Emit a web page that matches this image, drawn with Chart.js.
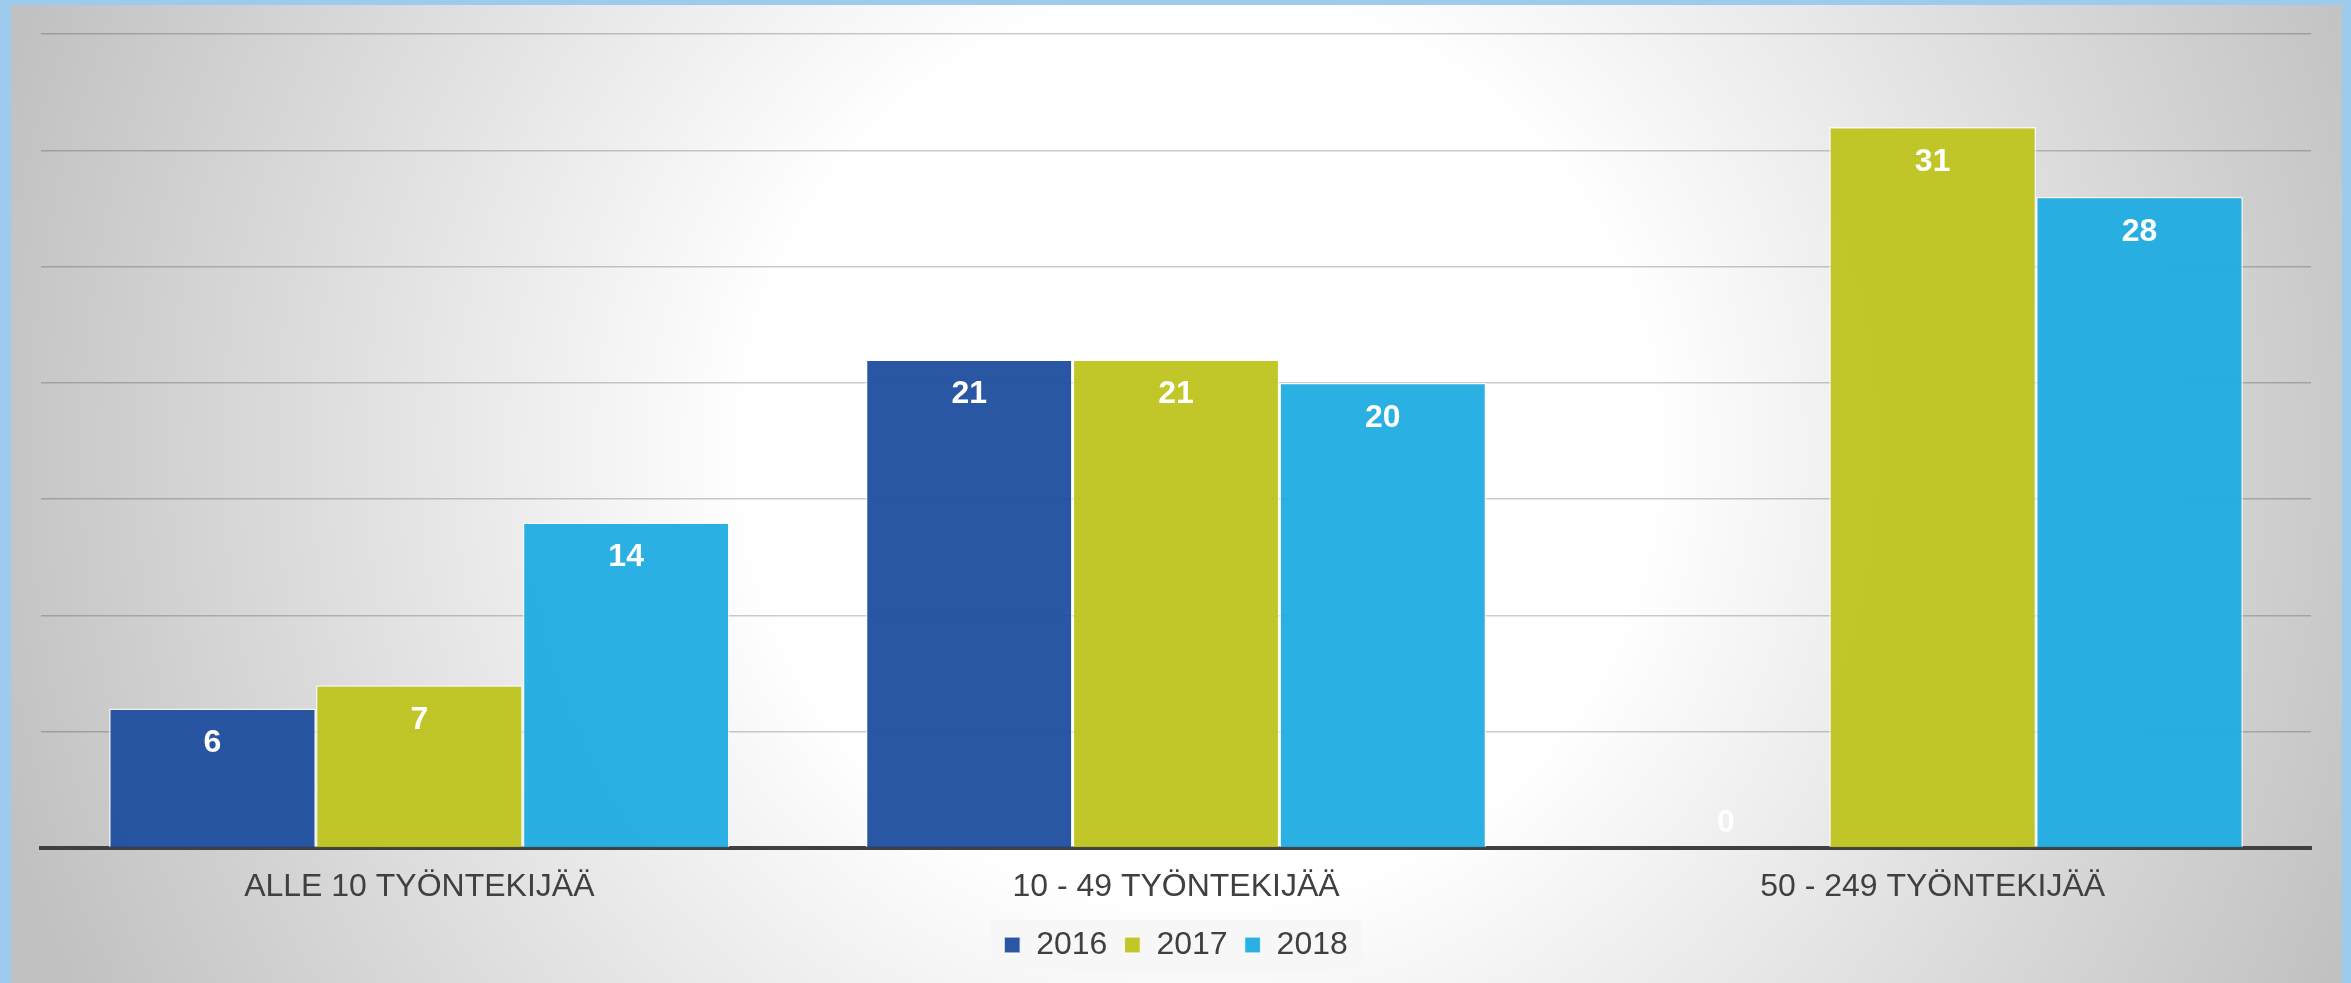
<!DOCTYPE html>
<html>
<head>
<meta charset="utf-8">
<script src="https://cdn.jsdelivr.net/npm/chart.js@4.4.1/dist/chart.umd.min.js"></script>
<style>
  html, body { margin:0; padding:0; width:2351px; height:983px; overflow:hidden; background:#9ccbed; }
  #panel {
    position:absolute; left:11px; top:5px; width:2331px; height:978px;
    background: radial-gradient(circle at 1189px 445px, #ffffff 0px, #ffffff 450px, #c0c0c0 1260px);
  }
</style>
</head>
<body>
<div id="panel"><canvas id="chart"></canvas></div>
<script>
/* ======== DATA ======== */
const categories = ['ALLE 10 TYÖNTEKIJÄÄ', '10 - 49 TYÖNTEKIJÄÄ', '50 - 249 TYÖNTEKIJÄÄ'];
const years = ['2016', '2017', '2018'];
const values2016 = [6, 21, 0];
const values2017 = [7, 21, 31];
const values2018 = [14, 20, 28];
const yMin = 0, yMax = 35, yStep = 5;

const FONT = "'Liberation Sans', Arial, sans-serif";

/* ======== PLUGINS ======== */
// light box behind the legend
const legendBg = {
  id: 'legendBg',
  beforeDraw(chart){
    const boxes = chart.legend && chart.legend.legendHitBoxes;
    if(!boxes || !boxes.length) return;
    const l = Math.min(...boxes.map(b => b.left));
    const r = Math.max(...boxes.map(b => b.left + b.width));
    const cx = (l + r) / 2;
    const cy = boxes[0].top + boxes[0].height / 2;
    const ctx = chart.ctx;
    ctx.save();
    ctx.fillStyle = '#f7f7f7';
    ctx.fillRect(cx - 186, cy - 25, 372, 52);
    ctx.restore();
  }
};

// value labels inside the bar tops
const barLabels = {
  id: 'barLabels',
  afterDatasetsDraw(chart){
    const ctx = chart.ctx;
    ctx.save();
    ctx.font = 'bold 32px ' + FONT;
    ctx.textAlign = 'center';
    ctx.textBaseline = 'middle';
    chart.data.datasets.forEach((ds, i) => {
      const meta = chart.getDatasetMeta(i);
      meta.data.forEach((bar, j) => {
        const v = ds.data[j];
        if(v === 0){
          ctx.fillStyle = 'rgba(255,255,255,0.9)';
          ctx.fillText(String(v), bar.x, bar.base - 25);
        } else {
          ctx.fillStyle = '#ffffff';
          ctx.fillText(String(v), bar.x, bar.y + 35);
        }
      });
    });
    ctx.restore();
  }
};

/* ======== CHART ======== */
const ctx = document.getElementById('chart');
new Chart(ctx, {
  type: 'bar',
  data: {
    labels: categories,
    datasets: [
      { label: years[0], data: values2016, backgroundColor: 'rgba(31,78,159,0.95)' },
      { label: years[1], data: values2017, backgroundColor: 'rgba(190,196,30,0.95)' },
      { label: years[2], data: values2018, backgroundColor: 'rgba(32,172,226,0.95)' }
    ].map(d => Object.assign(d, { borderColor: 'rgba(255,255,255,0.7)', borderWidth: 1.5, categoryPercentage: 0.82, barPercentage: 1.0 }))
  },
  options: {
    responsive: true,
    maintainAspectRatio: false,
    animation: false,
    layout: { padding: { left: 30, right: 31, top: 29, bottom: 12 } },
    scales: {
      x: {
        grid: { display: false, drawTicks: false },
        border: { display: true, color: '#404040', width: 4 },
        ticks: { color: '#404040', font: { family: FONT, size: 32 }, padding: 20, maxRotation: 0 },
        afterFit(scale){ scale.height = 64; }
      },
      y: {
        min: yMin, max: yMax,
        grid: { color: 'rgba(0,0,0,0.2)', lineWidth: 1.5, drawTicks: false },
        border: { display: false },
        ticks: { display: false, stepSize: yStep }
      }
    },
    plugins: {
      legend: {
        position: 'bottom',
        labels: { color: '#404040', font: { family: FONT, size: 32 }, boxWidth: 16, boxHeight: 16, padding: 17 }
      },
      tooltip: { enabled: false }
    }
  },
  plugins: [legendBg, barLabels]
});
</script>
</body>
</html>
